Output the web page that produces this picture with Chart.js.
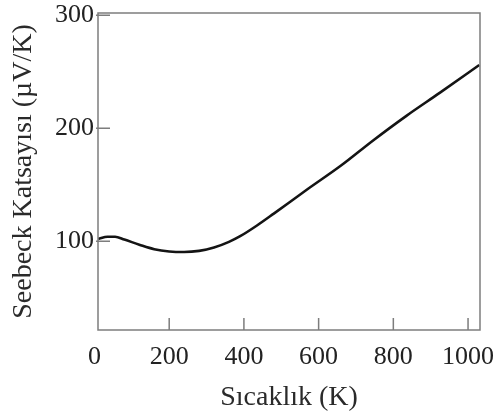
<!DOCTYPE html>
<html>
<head>
<meta charset="utf-8">
<script src="https://cdn.jsdelivr.net/npm/chart.js@4/dist/chart.umd.min.js"></script>
<style>
  html, body { margin: 0; padding: 0; background: #fff; }
  #wrap { width: 497px; height: 417px; }
</style>
</head>
<body>
<div id="wrap"><canvas id="myChart"></canvas></div>
<script>
// sicaklik (K) ve Seebeck katsayisi (µV/K)
const sicaklik = [10, 35, 55, 80, 120, 160, 200, 240, 280, 320, 360, 390, 435, 480, 570, 660, 745, 835, 925, 1030];
const seebeck = [102, 104, 104, 101.5, 97, 93, 91, 90.5, 91.5, 94.5, 99.5, 104.5, 114, 124.5, 146, 167, 189, 211, 231.5, 256];
const xTicks = [0, 200, 400, 600, 800, 1000];
const yTicks = [100, 200, 300];

const puntos = sicaklik.map(function (t, i) { return { x: t, y: seebeck[i] }; });

// cerceve + ic tarafa dogru kisa tick cizgileri
const cerceve = {
    id: 'cerceve',
    afterDraw: function (chart) {
        const ctx = chart.ctx;
        const a = chart.chartArea;
        const sx = chart.scales.x;
        const sy = chart.scales.y;
        ctx.save();
        ctx.strokeStyle = '#7d7d7d';
        ctx.lineWidth = 1.5;
        ctx.strokeRect(a.left, a.top, a.right - a.left, a.bottom - a.top);
        ctx.beginPath();
        xTicks.forEach(function (v) {
            const px = sx.getPixelForValue(v);
            if (px <= a.left + 2 || px >= a.right - 2) return;
            ctx.moveTo(px, a.bottom);
            ctx.lineTo(px, a.bottom - 12);
        });
        yTicks.forEach(function (v) {
            const py = sy.getPixelForValue(v);
            if (py <= a.top + 2 || py >= a.bottom - 2) return;
            ctx.moveTo(a.left - 2, py);
            ctx.lineTo(a.left + 12, py);
        });
        ctx.stroke();
        ctx.restore();
    }
};

function sinPadding(scale) {
    scale.paddingLeft = 0;
    scale.paddingRight = 0;
    scale.paddingTop = 0;
    scale.paddingBottom = 0;
}

const ctx = document.getElementById('myChart');
const myChart = new Chart(ctx, {
    type: 'line',
    data: {
        datasets: [{
            data: puntos,
            borderColor: '#141414',
            borderWidth: 2.6,
            pointRadius: 0,
            tension: 0.4,
            cubicInterpolationMode: 'monotone',
            fill: false
        }]
    },
    options: {
        responsive: true,
        maintainAspectRatio: false,
        animation: false,
        layout: { padding: { top: 13, right: 17, left: 0, bottom: 0 } },
        plugins: {
            legend: { display: false },
            tooltip: { enabled: false }
        },
        scales: {
            x: {
                type: 'linear',
                min: 9.4,
                max: 1032,
                afterBuildTicks: function (scale) {
                    scale.ticks = xTicks.map(function (v) { return { value: v }; });
                },
                afterFit: function (scale) {
                    scale.height = 87;
                    sinPadding(scale);
                },
                grid: { display: false, drawTicks: false },
                border: { display: false },
                ticks: {
                    padding: 12,
                    color: '#222',
                    font: { family: 'Liberation Serif', size: 26 },
                    maxRotation: 0,
                    autoSkip: false,
                    callback: function (v) { return String(v); }
                },
                title: {
                    display: true,
                    text: 'Sıcaklık (K)',
                    color: '#2a2a2a',
                    font: { family: 'Liberation Serif', size: 28 },
                    padding: { top: 0, bottom: 3 }
                }
            },
            y: {
                type: 'linear',
                min: 21.5,
                max: 302,
                afterBuildTicks: function (scale) {
                    scale.ticks = yTicks.map(function (v) { return { value: v }; });
                },
                afterFit: function (scale) {
                    scale.width = 98;
                    sinPadding(scale);
                },
                grid: { display: false, drawTicks: false },
                border: { display: false },
                ticks: {
                    padding: 4,
                    color: '#222',
                    font: { family: 'Liberation Serif', size: 26 },
                    autoSkip: false,
                    callback: function (v) { return String(v); }
                },
                title: {
                    display: true,
                    text: 'Seebeck Katsayısı (µV/K)',
                    color: '#2a2a2a',
                    font: { family: 'Liberation Serif', size: 28 },
                    padding: { top: 7, bottom: 0 }
                }
            }
        }
    },
    plugins: [cerceve]
});
</script>
</body>
</html>
